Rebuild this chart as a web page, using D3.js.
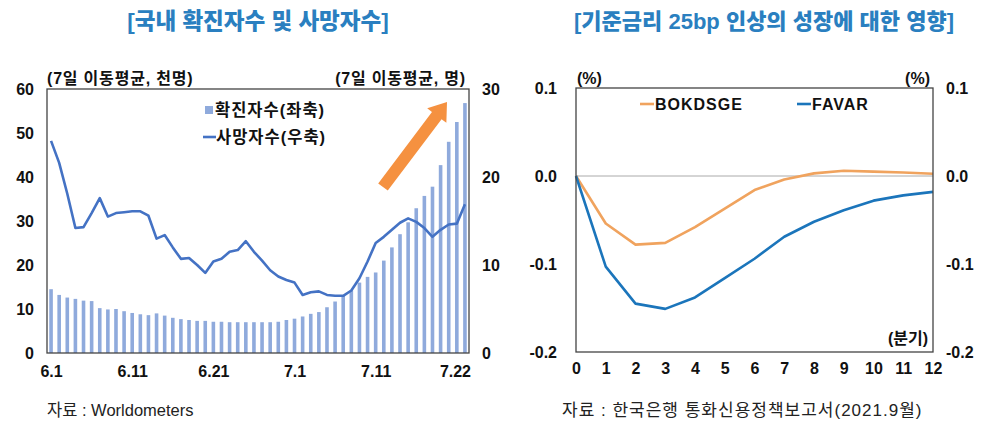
<!DOCTYPE html>
<html>
<head>
<meta charset="utf-8">
<script src="https://cdn.jsdelivr.net/npm/d3@7"></script>
<style>
  body { margin: 0; background: #fff; }
  svg text { font-family: "Liberation Sans", Arial, "Noto Sans CJK KR", sans-serif; }
</style>
</head>
<body>
<svg id="chart" width="995" height="431"></svg>
<script>
// left panel: 7-day averages, 6.1 ~ 7.22
var dates = ["6.1","6.2","6.3","6.4","6.5","6.6","6.7","6.8","6.9","6.10",
  "6.11","6.12","6.13","6.14","6.15","6.16","6.17","6.18","6.19","6.20",
  "6.21","6.22","6.23","6.24","6.25","6.26","6.27","6.28","6.29","6.30",
  "7.1","7.2","7.3","7.4","7.5","7.6","7.7","7.8","7.9","7.10",
  "7.11","7.12","7.13","7.14","7.15","7.16","7.17","7.18","7.19","7.20",
  "7.21","7.22"];
var dateTicks = ["6.1","6.11","6.21","7.1","7.11","7.22"];
// confirmed cases (thousand)
var confirmed = [14.5,13.2,12.6,12.3,11.9,11.8,10.2,9.9,10.0,9.5,
  9.1,8.8,8.6,9.0,8.5,8.0,7.7,7.5,7.3,7.3,
  7.1,7.1,7.0,7.0,7.0,7.0,7.0,7.0,7.1,7.5,
  7.8,8.3,8.9,9.3,10.4,11.7,13.0,14.2,16.0,17.3,
  18.3,21.0,24.0,27.0,29.7,32.9,35.7,37.8,42.7,48.0,
  52.5,56.8];
// deaths
var deaths = [24.1,21.6,18.1,14.2,14.3,15.9,17.6,15.5,15.9,16.0,
  16.1,16.1,15.6,13.0,13.4,12.0,10.7,10.8,10.0,9.1,
  10.4,10.7,11.5,11.7,12.7,11.5,10.5,9.4,8.7,8.3,
  8.0,6.6,6.9,7.0,6.6,6.5,6.5,7.1,8.5,10.4,
  12.5,13.2,14.0,14.8,15.3,14.9,14.2,13.2,14.0,14.6,
  14.7,16.9];
var leftTicksL = [0,10,20,30,40,50,60];
var leftTicksR = [0,10,20,30];

// right panel: response to 25bp hike, quarters 0~12
var quarters = [0,1,2,3,4,5,6,7,8,9,10,11,12];
var bokdsge = [0,-0.054,-0.078,-0.076,-0.058,-0.037,-0.016,-0.004,0.003,0.006,0.005,0.004,0.0025];
var favar = [0,-0.103,-0.145,-0.151,-0.138,-0.116,-0.094,-0.069,-0.052,-0.039,-0.028,-0.022,-0.018];
var pctTicks = [0.1,0.0,-0.1,-0.2];

var svg = d3.select("#chart");
var fmt = function (d) { return d3.format(".1f")(d).replace("\u2212", "-"); };

// ---------- titles ----------
svg.append("text").attr("x", 258).attr("y", 29).attr("text-anchor", "middle")
  .style("font-size", "22.5px").style("font-weight", "900").style("fill", "#2a7fc0")
  .text("[국내 확진자수 및 사망자수]");
svg.append("text").attr("x", 764).attr("y", 29).attr("text-anchor", "middle")
  .style("font-size", "22px").style("font-weight", "900").style("fill", "#2a7fc0")
  .text("[기준금리 25bp 인상의 성장에 대한 영향]");

// ---------- left chart ----------
var L = { x0: 47, x1: 469, top: 89, bottom: 353 };
var x = d3.scalePoint().domain(dates).range([L.x0, L.x1]).padding(0.5);
var yL = d3.scaleLinear().domain([0, 60]).range([L.bottom, L.top]);
var yR = d3.scaleLinear().domain([0, 30]).range([L.bottom, L.top]);
var barW = 3.6;

var left = svg.append("g");
left.selectAll("rect.bar")
  .data(confirmed)
  .enter().append("rect")
  .attr("class", "bar")
  .attr("x", function (d, i) { return x(dates[i]) - barW / 2; })
  .attr("y", function (d) { return yL(d); })
  .attr("width", barW)
  .attr("height", function (d) { return yL(0) - yL(d); })
  .style("fill", "#8faadc");

var deathLine = d3.line()
  .x(function (d, i) { return x(dates[i]); })
  .y(function (d) { return yR(d); });
left.append("path")
  .datum(deaths)
  .attr("d", deathLine)
  .style("fill", "none")
  .style("stroke", "#4472c4")
  .style("stroke-width", 2.6)
  .style("stroke-linejoin", "round");

left.append("rect")
  .attr("x", L.x0).attr("y", L.top)
  .attr("width", L.x1 - L.x0).attr("height", L.bottom - L.top)
  .style("fill", "none").style("stroke", "#444").style("stroke-width", 1.3);

var axL = d3.axisLeft(yL).tickValues(leftTicksL).tickSize(0).tickPadding(13);
var gL = left.append("g").attr("transform", "translate(" + L.x0 + ",0)").call(axL);
var axR = d3.axisRight(yR).tickValues(leftTicksR).tickSize(0).tickPadding(13);
var gR = left.append("g").attr("transform", "translate(" + L.x1 + ",0)").call(axR);
var axX = d3.axisBottom(x).tickValues(dateTicks).tickSize(0).tickPadding(13);
var gX = left.append("g").attr("transform", "translate(0," + L.bottom + ")").call(axX);
gX.selectAll(".tick").filter(function (d) { return d === "7.22"; })
  .select("text").attr("dx", -10);
[gL, gR, gX].forEach(function (g) {
  g.select(".domain").remove();
  g.selectAll("text").style("font-size", "16px").style("font-weight", "bold")
    .style("fill", "#111").style("font-family", "'Liberation Sans', Arial, sans-serif");
});

left.append("text").attr("x", 47).attr("y", 84)
  .style("font-size", "16px").style("font-weight", "bold").style("fill", "#111")
  .style("letter-spacing", "0.8px")
  .text("(7일 이동평균, 천명)");
left.append("text").attr("x", 466).attr("y", 84).attr("text-anchor", "end")
  .style("font-size", "16px").style("font-weight", "bold").style("fill", "#111")
  .style("letter-spacing", "0.8px")
  .text("(7일 이동평균, 명)");

// legend
left.append("rect").attr("x", 205).attr("y", 106).attr("width", 8).attr("height", 8)
  .style("fill", "#8faadc");
left.append("text").attr("x", 215).attr("y", 116)
  .style("font-size", "16.5px").style("font-weight", "bold").style("fill", "#111")
  .style("letter-spacing", "1px")
  .text("확진자수(좌축)");
left.append("line").attr("x1", 203).attr("x2", 216).attr("y1", 137).attr("y2", 137)
  .style("stroke", "#4472c4").style("stroke-width", 2.6);
left.append("text").attr("x", 216).attr("y", 143)
  .style("font-size", "16.5px").style("font-weight", "bold").style("fill", "#111")
  .style("letter-spacing", "1px")
  .text("사망자수(우축)");

// orange trend arrow
(function () {
  var tail = [383, 187], tip = [447, 102];
  var dx = tip[0] - tail[0], dy = tip[1] - tail[1];
  var len = Math.sqrt(dx * dx + dy * dy);
  var ux = dx / len, uy = dy / len, px = -uy, py = ux;
  var headLen = 17, shaftW = 6, headW = 12;
  var bx = tip[0] - ux * headLen, by = tip[1] - uy * headLen;
  var pts = [
    [tail[0] + px * shaftW, tail[1] + py * shaftW],
    [bx + px * shaftW, by + py * shaftW],
    [bx + px * headW, by + py * headW],
    tip,
    [bx - px * headW, by - py * headW],
    [bx - px * shaftW, by - py * shaftW],
    [tail[0] - px * shaftW, tail[1] - py * shaftW]
  ];
  left.append("polygon")
    .attr("points", pts.map(function (p) { return p.join(","); }).join(" "))
    .style("fill", "#f59140");
})();

// ---------- right chart ----------
var R = { x0: 576, x1: 933, top: 88, bottom: 352 };
var xq = d3.scaleLinear().domain([0, 12]).range([R.x0, R.x1]);
var yp = d3.scaleLinear().domain([-0.2, 0.1]).range([R.bottom, R.top]);

var right = svg.append("g");
right.append("line")
  .attr("x1", R.x0).attr("x2", R.x1).attr("y1", yp(0)).attr("y2", yp(0))
  .style("stroke", "#aaa").style("stroke-width", 1);

var qLine = d3.line()
  .x(function (d, i) { return xq(quarters[i]); })
  .y(function (d) { return yp(d); });
right.append("path").datum(bokdsge).attr("d", qLine)
  .style("fill", "none").style("stroke", "#f0a35e").style("stroke-width", 2.6)
  .style("stroke-linejoin", "round");
right.append("path").datum(favar).attr("d", qLine)
  .style("fill", "none").style("stroke", "#1b75bb").style("stroke-width", 2.6)
  .style("stroke-linejoin", "round");

right.append("rect")
  .attr("x", R.x0).attr("y", R.top)
  .attr("width", R.x1 - R.x0).attr("height", R.bottom - R.top)
  .style("fill", "none").style("stroke", "#444").style("stroke-width", 1.3);

var axPL = d3.axisLeft(yp).tickValues(pctTicks).tickFormat(fmt).tickSize(0).tickPadding(19);
var gPL = right.append("g").attr("transform", "translate(" + R.x0 + ",0)").call(axPL);
var axPR = d3.axisRight(yp).tickValues(pctTicks).tickFormat(fmt).tickSize(0).tickPadding(13);
var gPR = right.append("g").attr("transform", "translate(" + R.x1 + ",0)").call(axPR);
var axQ = d3.axisBottom(xq).tickValues(quarters).tickSize(0).tickPadding(11);
var gQ = right.append("g").attr("transform", "translate(0," + R.bottom + ")").call(axQ);
[gPL, gPR, gQ].forEach(function (g) {
  g.select(".domain").remove();
  g.selectAll("text").style("font-size", "16px").style("font-weight", "bold")
    .style("fill", "#111").style("font-family", "'Liberation Sans', Arial, sans-serif");
});

right.append("text").attr("x", 577).attr("y", 84)
  .style("font-size", "16px").style("font-weight", "bold").style("fill", "#111").text("(%)");
right.append("text").attr("x", 930).attr("y", 84).attr("text-anchor", "end")
  .style("font-size", "16px").style("font-weight", "bold").style("fill", "#111").text("(%)");
right.append("text").attr("x", 928).attr("y", 344).attr("text-anchor", "end")
  .style("font-size", "16px").style("font-weight", "bold").style("fill", "#111").text("(분기)");

// legend
right.append("line").attr("x1", 640).attr("x2", 654).attr("y1", 104).attr("y2", 104)
  .style("stroke", "#f0a35e").style("stroke-width", 2.6);
right.append("text").attr("x", 655).attr("y", 110)
  .style("font-size", "16px").style("font-weight", "bold").style("fill", "#111")
  .style("letter-spacing", "1px").text("BOKDSGE");
right.append("line").attr("x1", 797).attr("x2", 811).attr("y1", 104).attr("y2", 104)
  .style("stroke", "#1b75bb").style("stroke-width", 2.6);
right.append("text").attr("x", 812).attr("y", 110)
  .style("font-size", "16px").style("font-weight", "bold").style("fill", "#111")
  .style("letter-spacing", "1px").text("FAVAR");

// ---------- sources ----------
svg.append("text").attr("x", 47).attr("y", 416)
  .style("font-size", "16.5px").style("fill", "#222").text("자료 : Worldometers");
svg.append("text").attr("x", 562).attr("y", 416)
  .style("font-size", "17px").style("fill", "#222").style("letter-spacing", "1px")
  .text("자료 : 한국은행 통화신용정책보고서(2021.9월)");
</script>
</body>
</html>
